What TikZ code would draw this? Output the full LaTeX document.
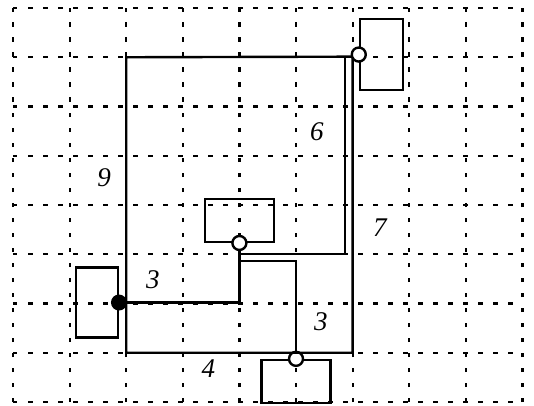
\documentclass[tikz,border=0pt]{standalone}
\usepackage{fontspec}
\setmainfont{Liberation Serif}
\usetikzlibrary{positioning}

\tikzset{
  gridline/.style={line width=2.2pt, dash pattern=on 4.5pt off 10.5pt},
  wire/.style={line width=2.4pt},
  part/.style 2 args={draw, line width=2.4pt, inner sep=0pt, minimum width=#1, minimum height=#2},
  port/.style={circle, draw, fill=white, line width=2.4pt, inner sep=0pt, minimum size=14pt},
  dot/.style={circle, fill=black, inner sep=0pt, minimum size=16pt},
  lbl/.style={font=\itshape\fontsize{27}{30}\selectfont}
}

\begin{document}
\begin{tikzpicture}[x=56.6pt, y=49.25pt]
		% --- RAMKA ---
		\useasboundingbox (-13pt,-3pt) rectangle (521pt,402pt);
		
		% Siatka kropkowana
		\foreach \i in {0,...,9}
			\draw[gridline] (\i,0) -- (\i,8);
		\foreach \j in {0,...,8}
			\draw[gridline] (0,\j) -- (9,\j);
		
		% --- ELEMENTY ---
		\node[part={43pt}{71pt}] (trbox) at (6.51,7.055) {};
		\node[part={69pt}{43pt}] (midbox) at (4,3.69) {};
		\node[part={42pt}{70pt}] (leftbox) at (1.48,2.02) {};
		\node[part={69pt}{43pt}] (botbox) at (5,0.415) {};
		
		% Zaciski
		\node[port] (trport) at (trbox.west) {};
		\node[port] (midport) at (midbox.south) {};
		\node[dot] (leftdot) at (leftbox.east) {};
		\node[port] (botport) at (botbox.north) {};
		
		% Punkty węzłowe
		\coordinate (jtop) at (5.87,7);
		\coordinate (jmid) at (4,3);
		\coordinate (jlow) at (4,2.86);
		
		% --- PRZEWODY ---
		\draw[wire] (trport.195) -- (2,7) |- (6,1) -- (6,7);
		\draw[wire] (jtop) |- (jmid);
		\draw[wire] (midport) |- (leftdot);
		\draw[wire] (jlow) -| (botport);
		
		% --- ETYKIETY ---
		\node[lbl] (lsix) at (5.37,5.48) {6};
		\node[lbl] (lnine) at (1.61,4.55) {9};
		\node[lbl] (lseven) at (6.48,3.55) {7};
		\node[lbl] (lthreea) at (2.47,2.48) {3};
		\node[lbl] (lthreeb) at (5.44,1.64) {3};
		\node[lbl] (lfour) at (3.45,0.67) {4};
		
	\end{tikzpicture}
\end{document}
